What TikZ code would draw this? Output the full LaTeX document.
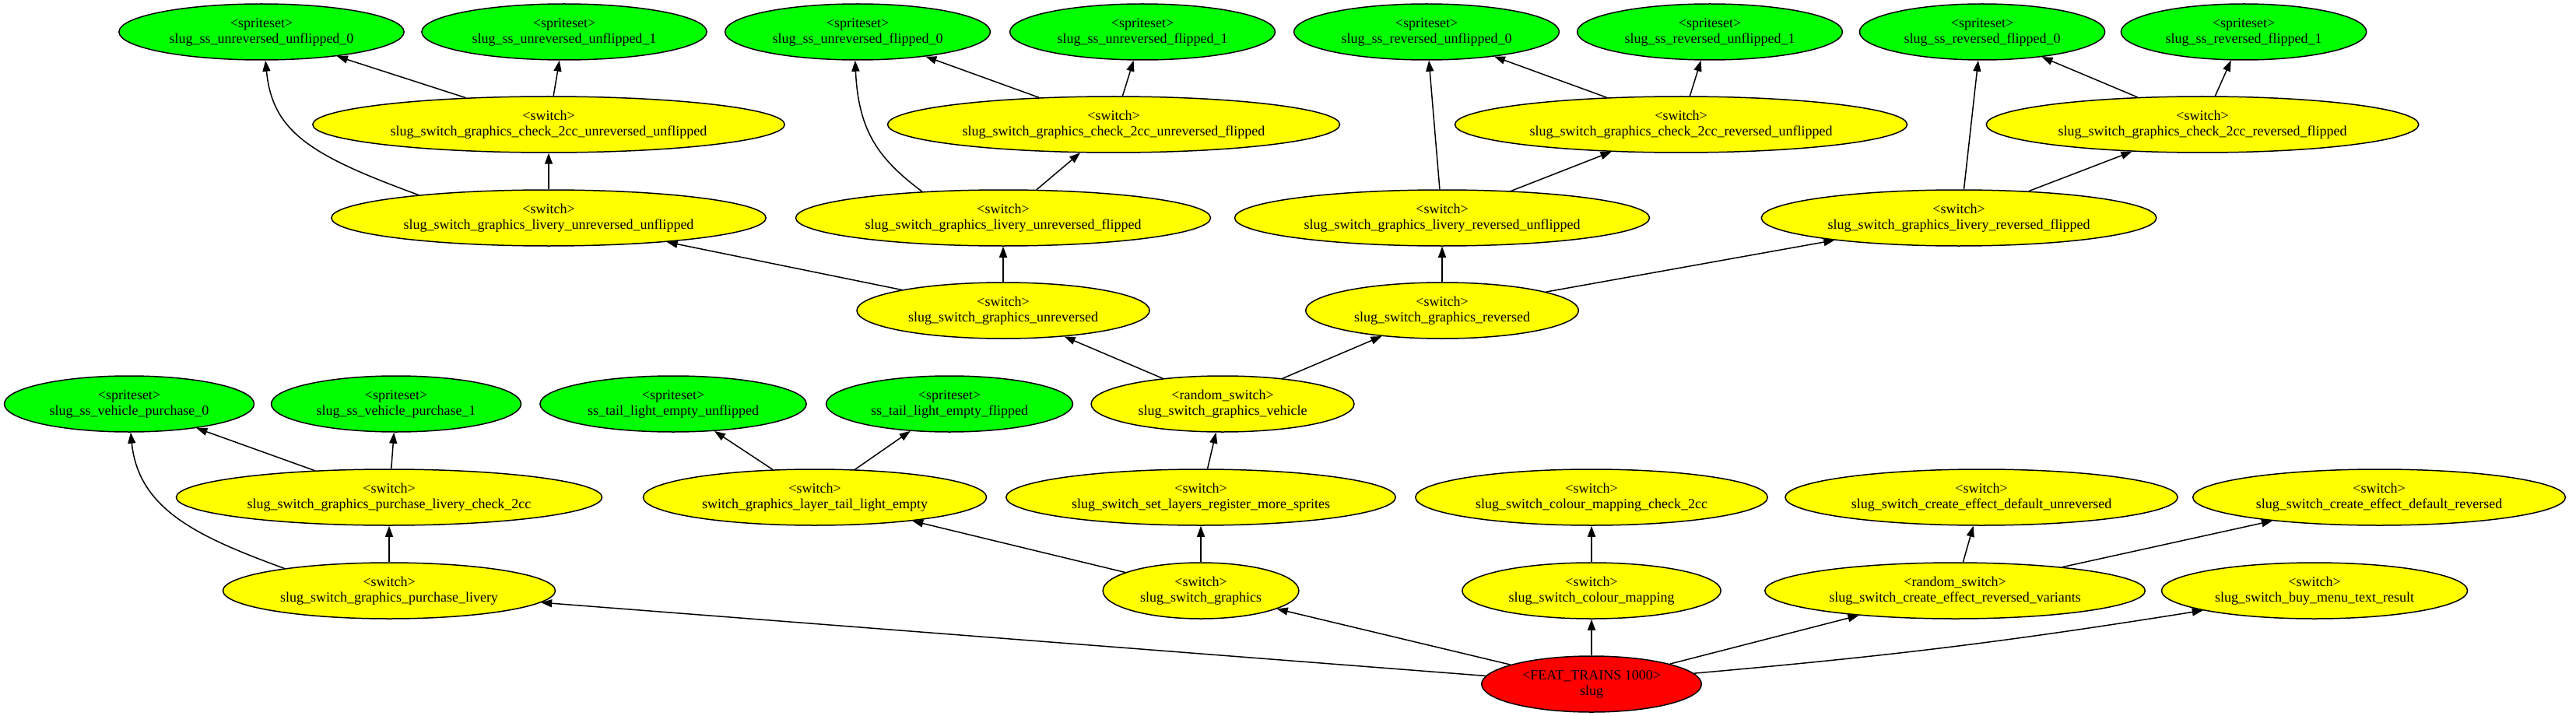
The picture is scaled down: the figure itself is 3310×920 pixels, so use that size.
\documentclass[tikz,border=0pt]{standalone}
\usepackage{fontspec}
\setmainfont{Liberation Serif}
\usetikzlibrary{shapes.geometric,arrows.meta}
\definecolor{gvgreen}{RGB}{0,255,0}
\definecolor{gvyellow}{RGB}{255,255,0}
\definecolor{gvred}{RGB}{255,0,0}
\begin{document}
\begin{tikzpicture}[x=1pt,y=-1pt,
  gvnode/.style={ellipse,draw=black,line width=1.5pt,align=center,
    font=\fontsize{18pt}{20pt}\selectfont,minimum height=72pt,
    inner xsep=11pt,inner ysep=0pt},
  sprite/.style={gvnode,fill=gvgreen},
  sw/.style={gvnode,fill=gvyellow},
  rootnode/.style={gvnode,fill=gvred},
  edge/.style={draw=black,line width=1.5pt,-{Triangle[length=14pt,width=10pt]}}]
\useasboundingbox (0,0) rectangle (3310,920);
% row 1
\node[sprite] (g1) at (336,41) {<spriteset>\\slug\_ss\_unreversed\_unflipped\_0};
\node[sprite] (g2) at (725,41) {<spriteset>\\slug\_ss\_unreversed\_unflipped\_1};
\node[sprite] (g3) at (1102,41) {<spriteset>\\slug\_ss\_unreversed\_flipped\_0};
\node[sprite] (g4) at (1468,41) {<spriteset>\\slug\_ss\_unreversed\_flipped\_1};
\node[sprite] (g5) at (1833,41) {<spriteset>\\slug\_ss\_reversed\_unflipped\_0};
\node[sprite] (g6) at (2197,41) {<spriteset>\\slug\_ss\_reversed\_unflipped\_1};
\node[sprite] (g7) at (2547,41) {<spriteset>\\slug\_ss\_reversed\_flipped\_0};
\node[sprite] (g8) at (2883,41) {<spriteset>\\slug\_ss\_reversed\_flipped\_1};
% row 2
\node[sw] (c1) at (705,160) {<switch>\\slug\_switch\_graphics\_check\_2cc\_unreversed\_unflipped};
\node[sw] (c2) at (1431,160) {<switch>\\slug\_switch\_graphics\_check\_2cc\_unreversed\_flipped};
\node[sw] (c3) at (2160,160) {<switch>\\slug\_switch\_graphics\_check\_2cc\_reversed\_unflipped};
\node[sw] (c4) at (2830,160) {<switch>\\slug\_switch\_graphics\_check\_2cc\_reversed\_flipped};
% row 3
\node[sw] (l1) at (705,280) {<switch>\\slug\_switch\_graphics\_livery\_unreversed\_unflipped};
\node[sw] (l2) at (1289,280) {<switch>\\slug\_switch\_graphics\_livery\_unreversed\_flipped};
\node[sw] (l3) at (1853,280) {<switch>\\slug\_switch\_graphics\_livery\_reversed\_unflipped};
\node[sw] (l4) at (2517,280) {<switch>\\slug\_switch\_graphics\_livery\_reversed\_flipped};
% row 4
\node[sw] (gu) at (1289,399) {<switch>\\slug\_switch\_graphics\_unreversed};
\node[sw] (gr) at (1853,399) {<switch>\\slug\_switch\_graphics\_reversed};
% row 5
\node[sprite] (vp0) at (166,519) {<spriteset>\\slug\_ss\_vehicle\_purchase\_0};
\node[sprite] (vp1) at (509,519) {<spriteset>\\slug\_ss\_vehicle\_purchase\_1};
\node[sprite] (tlu) at (865,519) {<spriteset>\\ss\_tail\_light\_empty\_unflipped};
\node[sprite] (tlf) at (1220,519) {<spriteset>\\ss\_tail\_light\_empty\_flipped};
\node[sw] (gv) at (1571,519) {<random\_switch>\\slug\_switch\_graphics\_vehicle};
% row 6
\node[sw] (plc) at (500,639) {<switch>\\slug\_switch\_graphics\_purchase\_livery\_check\_2cc};
\node[sw] (ltl) at (1047,639) {<switch>\\switch\_graphics\_layer\_tail\_light\_empty};
\node[sw] (slr) at (1543,639) {<switch>\\slug\_switch\_set\_layers\_register\_more\_sprites};
\node[sw] (cmc) at (2045,639) {<switch>\\slug\_switch\_colour\_mapping\_check\_2cc};
\node[sw] (edu) at (2546,639) {<switch>\\slug\_switch\_create\_effect\_default\_unreversed};
\node[sw] (edr) at (3057,639) {<switch>\\slug\_switch\_create\_effect\_default\_reversed};
% row 7
\node[sw] (pl) at (500,759) {<switch>\\slug\_switch\_graphics\_purchase\_livery};
\node[sw] (sg) at (1543,759) {<switch>\\slug\_switch\_graphics};
\node[sw] (cm) at (2045,759) {<switch>\\slug\_switch\_colour\_mapping};
\node[sw] (erv) at (2512,759) {<random\_switch>\\slug\_switch\_create\_effect\_reversed\_variants};
\node[sw] (bmt) at (2974,759) {<switch>\\slug\_switch\_buy\_menu\_text\_result};
% row 8
\node[rootnode] (root) at (2045,879) {<FEAT\_TRAINS 1000>\\slug};
% edges
\draw[edge] (root) -- (pl);
\draw[edge] (root) -- (sg);
\draw[edge] (root) -- (cm);
\draw[edge] (root) -- (erv);
\draw[edge] (root.6) to[bend right=2] (bmt.190);
\draw[edge] (pl) -- (plc);
\draw[edge] (pl.168) .. controls (255,690) and (178,655) .. (vp0.273);
\draw[edge] (plc) -- (vp0);
\draw[edge] (plc) -- (vp1);
\draw[edge] (sg) -- (ltl);
\draw[edge] (sg) -- (slr);
\draw[edge] (ltl) -- (tlu);
\draw[edge] (ltl) -- (tlf);
\draw[edge] (slr) -- (gv);
\draw[edge] (gv) -- (gu);
\draw[edge] (gv) -- (gr);
\draw[edge] (gu) -- (l1);
\draw[edge] (gu) -- (l2);
\draw[edge] (gr) -- (l3);
\draw[edge] (gr) -- (l4);
\draw[edge] (l1) -- (c1);
\draw[edge] (l1.170) .. controls (400,200) and (350,170) .. (g1.278);
\draw[edge] (c1) -- (g1);
\draw[edge] (c1) -- (g2);
\draw[edge] (l2) -- (c2);
\draw[edge] (l2.162) .. controls (1130,205) and (1103,170) .. (g3.265);
\draw[edge] (c2) -- (g3);
\draw[edge] (c2) -- (g4);
\draw[edge] (l3) -- (c3);
\draw[edge] (l3) -- (g5);
\draw[edge] (c3) -- (g5);
\draw[edge] (c3) -- (g6);
\draw[edge] (l4) -- (c4);
\draw[edge] (l4.80.5) -- (g7.262);
\draw[edge] (c4) -- (g7);
\draw[edge] (c4) -- (g8);
\draw[edge] (cm) -- (cmc);
\draw[edge] (erv) -- (edu);
\draw[edge] (erv) -- (edr);
\end{tikzpicture}
\end{document}
